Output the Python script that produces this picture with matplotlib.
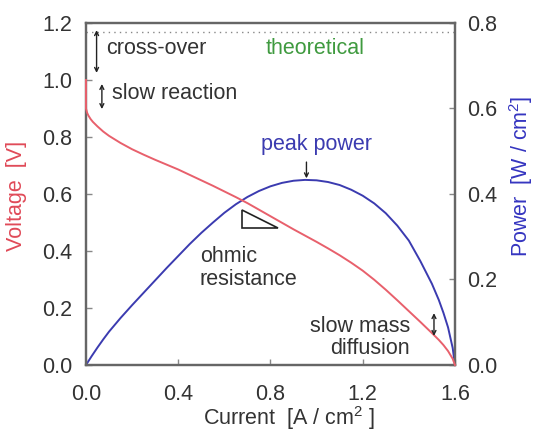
import matplotlib.pyplot as plt
from matplotlib.patches import Polygon

plt.rcParams['font.family'] = ['Liberation Sans', 'DejaVu Sans']
plt.rcParams['mathtext.fontset'] = 'custom'
plt.rcParams['mathtext.rm'] = 'Liberation Sans'
plt.rcParams['font.size'] = 15.5

# polarization curve
current = [0.0, 0.0, 0.005, 0.01, 0.02, 0.03, 0.05, 0.075, 0.1, 0.15, 0.2, 0.25, 0.3, 0.35,
           0.4, 0.45, 0.5, 0.55, 0.6, 0.65, 0.7, 0.75, 0.8, 0.85, 0.9, 0.95, 1.0, 1.05,
           1.1, 1.15, 1.2, 1.25, 1.3, 1.35, 1.4, 1.45, 1.5, 1.53, 1.55, 1.57, 1.59, 1.6]
voltage = [1.0, 0.9, 0.885, 0.876, 0.863, 0.853, 0.837, 0.819, 0.804, 0.779, 0.757, 0.738,
           0.72, 0.703, 0.686, 0.667, 0.648, 0.629, 0.609, 0.589, 0.568, 0.545, 0.522,
           0.499, 0.476, 0.454, 0.432, 0.409, 0.385, 0.359, 0.331, 0.299, 0.264, 0.227,
           0.189, 0.151, 0.112, 0.088, 0.07, 0.049, 0.022, 0.0]

# power density curve
p_current = [0.0, 0.025, 0.05, 0.075, 0.1, 0.15, 0.2, 0.25, 0.3, 0.35, 0.4, 0.45, 0.5, 0.55,
             0.6, 0.65, 0.7, 0.75, 0.8, 0.85, 0.9, 0.95, 1.0, 1.05, 1.1, 1.15, 1.2, 1.25,
             1.3, 1.35, 1.4, 1.45, 1.5, 1.53, 1.55, 1.57, 1.59, 1.6]
power = [0.0, 0.021, 0.041, 0.06, 0.078, 0.11, 0.14, 0.169, 0.198, 0.227, 0.255, 0.283,
         0.309, 0.333, 0.356, 0.376, 0.393, 0.407, 0.418, 0.426, 0.431, 0.433, 0.432,
         0.428, 0.421, 0.41, 0.396, 0.378, 0.355, 0.326, 0.291, 0.243, 0.19, 0.152,
         0.122, 0.088, 0.04, 0.0]

x_ticks = [0.0, 0.4, 0.8, 1.2, 1.6]
v_ticks = [0.0, 0.2, 0.4, 0.6, 0.8, 1.0, 1.2]
p_ticks = [0.0, 0.2, 0.4, 0.6, 0.8]

theoretical_v = 1.17

red = '#e8606c'
blue = '#3b3bb0'
txt = '#333333'
spine = '#666666'

fig = plt.figure(figsize=(5.34, 4.34), dpi=100)
ax = fig.add_axes([0.161, 0.159, 0.691, 0.788])
ax2 = ax.twinx()
# voltage axes on top so the red line shows over the left spine
ax.set_zorder(2)
ax.patch.set_visible(False)

ax.plot(current, voltage, color=red, lw=1.4, zorder=3, clip_on=False)
ax2.plot(p_current, power, color=blue, lw=1.4, zorder=3)
ax.axhline(theoretical_v, color='#888888', lw=1, ls=(0, (1, 3)))

ax.set_xlim(0, 1.6)
ax.set_ylim(0, 1.2)
ax2.set_ylim(0, 0.8)
ax.set_xticks(x_ticks)
ax.set_yticks(v_ticks)
ax2.set_yticks(p_ticks)
ax.set_xticklabels(['%.1f' % t for t in x_ticks])
ax.set_yticklabels(['%.1f' % t for t in v_ticks])
ax2.set_yticklabels(['%.1f' % t for t in p_ticks])

for a in (ax, ax2):
    a.tick_params(direction='in', length=4, width=1, color='#888888', labelcolor=txt)
    for s in a.spines.values():
        s.set_color(spine)
        s.set_linewidth(1.6)
ax.tick_params(axis='x', pad=14)
ax.tick_params(axis='y', pad=10)
ax2.tick_params(axis='y', pad=9)

ax.set_xlabel('Current  [A / cm$^2$ ]', color=txt)
ax.xaxis.set_label_coords(0.55, -0.115)
ax.set_ylabel('Voltage  [V]', color='#e04a58')
ax.yaxis.set_label_coords(-0.16, 0.494)
ax2.set_ylabel('Power  [W / cm$^2$]', color='#3535c0')
ax2.yaxis.set_label_coords(1.14, 0.553)

arrow = dict(arrowstyle='<->', color='#222222', lw=1, mutation_scale=7, shrinkA=0, shrinkB=0)
ax.annotate('', xy=(0.046, 1.025), xytext=(0.046, 1.175), arrowprops=arrow)
ax.text(0.087, 1.112, 'cross-over', color=txt, va='center', ha='left')
ax.annotate('', xy=(0.069, 0.898), xytext=(0.069, 0.986), arrowprops=arrow)
ax.text(0.113, 0.954, 'slow reaction', color=txt, va='center', ha='left')
ax.text(0.993, 1.112, 'theoretical', color='#3f9a3f', va='center', ha='center')

ax.text(1.0, 0.772, 'peak power', color=blue, va='center', ha='center')
ax.annotate('', xy=(0.956, 0.655), xytext=(0.956, 0.712),
            arrowprops=dict(arrowstyle='->', color='#222222', lw=1, mutation_scale=7,
                            shrinkA=0, shrinkB=0))

tri = Polygon([(0.675, 0.544), (0.675, 0.480), (0.834, 0.480)], closed=True,
              facecolor='white', edgecolor='#222222', lw=1.2, zorder=4)
ax.add_patch(tri)
ax.text(0.494, 0.34, 'ohmic\nresistance', color=txt, va='center', ha='left', linespacing=1.1)

ax.text(1.405, 0.096, 'slow mass\ndiffusion', color=txt, va='center', ha='right',
        multialignment='right', linespacing=1.1)
ax.annotate('', xy=(1.509, 0.102), xytext=(1.509, 0.182), arrowprops=arrow)

fig.savefig('out.png', dpi=100)
